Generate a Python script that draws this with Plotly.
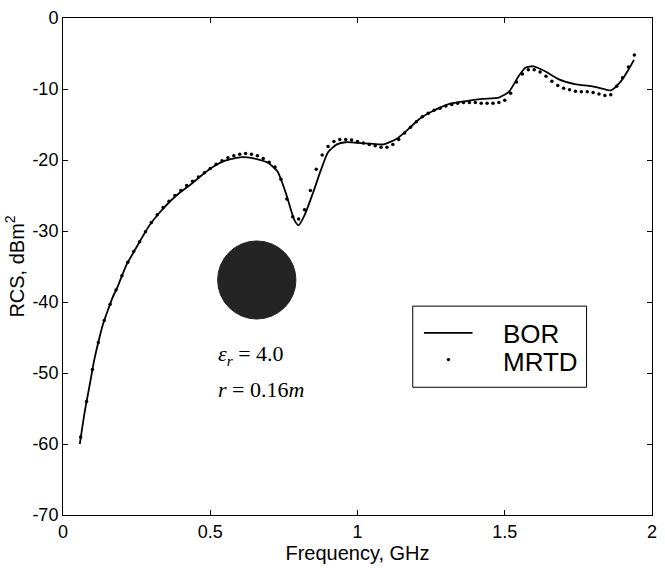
import plotly.graph_objects as go

# BOR (solid line)
bor_freq = [0.057, 0.074, 0.091, 0.105, 0.121, 0.136, 0.152, 0.169, 0.186, 0.214,
            0.248, 0.292, 0.326, 0.382, 0.438, 0.494, 0.550, 0.606, 0.640, 0.696,
            0.728, 0.757, 0.785, 0.800, 0.820, 0.850, 0.875, 0.900, 0.930, 0.960,
            1.000, 1.043, 1.088, 1.133, 1.166, 1.211, 1.256, 1.312, 1.368, 1.424,
            1.480, 1.514, 1.547, 1.570, 1.598, 1.637, 1.682, 1.738, 1.794, 1.827,
            1.861, 1.895, 1.917, 1.939]
bor_rcs = [-60.0, -55.4, -51.6, -48.4, -45.5, -43.1, -41.2, -39.3, -37.8, -34.9,
           -32.4, -29.3, -27.5, -25.1, -23.3, -21.4, -20.1, -19.6, -19.7, -20.4,
           -21.6, -24.7, -28.4, -29.2, -27.8, -24.5, -21.5, -18.9, -17.8, -17.5,
           -17.6, -17.7, -17.8, -17.0, -15.9, -14.2, -13.1, -12.1, -11.7, -11.4,
           -11.2, -10.4, -8.2, -7.0, -6.8, -7.5, -8.6, -9.3, -9.6, -9.9,
           -10.2, -8.9, -7.5, -5.9]

# MRTD (dots)
mrtd_freq = [0.06, 0.08, 0.10, 0.12, 0.14, 0.16, 0.18, 0.20, 0.22, 0.24,
             0.26, 0.28, 0.30, 0.32, 0.34, 0.36, 0.38, 0.40, 0.42, 0.44,
             0.46, 0.48, 0.50, 0.52, 0.54, 0.56, 0.58, 0.60, 0.62, 0.64,
             0.66, 0.68, 0.70, 0.72, 0.74, 0.76, 0.78, 0.80, 0.82, 0.84,
             0.86, 0.88, 0.90, 0.92, 0.94, 0.96, 0.98, 1.00, 1.02, 1.04,
             1.06, 1.08, 1.10, 1.12, 1.14, 1.16, 1.18, 1.20, 1.22, 1.24,
             1.26, 1.28, 1.30, 1.32, 1.34, 1.36, 1.38, 1.40, 1.42, 1.44,
             1.46, 1.48, 1.50, 1.52, 1.54, 1.56, 1.58, 1.60, 1.62, 1.64,
             1.66, 1.68, 1.70, 1.72, 1.74, 1.76, 1.78, 1.80, 1.82, 1.84,
             1.86, 1.88, 1.90, 1.92, 1.94]
mrtd_rcs = [-59.0, -54.0, -49.5, -45.7, -42.6, -40.3, -38.3, -36.3, -34.4, -32.9,
            -31.5, -30.1, -28.8, -27.7, -26.7, -25.8, -25.0, -24.3, -23.6, -23.0,
            -22.4, -21.8, -21.2, -20.6, -20.1, -19.7, -19.4, -19.2, -19.1, -19.2,
            -19.4, -19.8, -20.3, -21.0, -22.7, -25.5, -28.0, -28.3, -27.0, -24.3,
            -21.3, -19.3, -18.1, -17.4, -17.1, -17.1, -17.2, -17.4, -17.6, -17.8,
            -18.0, -18.2, -18.2, -17.8, -17.1, -16.2, -15.4, -14.6, -13.9, -13.4,
            -13.0, -12.7, -12.4, -12.2, -12.0, -11.9, -11.9, -11.9, -12.0, -12.0,
            -12.0, -11.9, -11.6, -10.6, -9.0, -7.9, -7.3, -7.3, -7.6, -8.2,
            -8.9, -9.5, -9.9, -10.1, -10.3, -10.4, -10.4, -10.5, -10.7, -10.9,
            -10.8, -9.6, -8.4, -6.9, -5.2]

series_names = ["BOR", "MRTD"]

x_ticks = [0, 0.5, 1, 1.5, 2]
x_tick_labels = ["0", "0.5", "1", "1.5", "2"]
y_ticks = [0, -10, -20, -30, -40, -50, -60, -70]
y_tick_labels = ["0", "-10", "-20", "-30", "-40", "-50", "-60", "-70"]

sans = "Liberation Sans, Arial, sans-serif"
serif = "Liberation Serif, Times New Roman, serif"

fig = go.Figure()
fig.add_trace(go.Scatter(
    x=bor_freq, y=bor_rcs, mode="lines", name=series_names[0],
    line=dict(color="black", width=1.8, shape="spline", smoothing=0.6),
    showlegend=False,
))
fig.add_trace(go.Scatter(
    x=mrtd_freq, y=mrtd_rcs, mode="markers", name=series_names[1],
    marker=dict(color="black", size=3.5, symbol="circle"),
    showlegend=False,
))

# cylinder cross-section sketch
fig.add_shape(type="circle", xref="x", yref="y",
              x0=0.525, x1=0.791, y0=-42.4, y1=-31.4,
              fillcolor="#242424", line=dict(color="#242424", width=1), layer="above")

fig.add_annotation(x=0.518, y=-47.4, xref="x", yref="y", xanchor="left", yanchor="middle",
                   text="<i>ε<sub>r</sub></i> = 4.0", showarrow=False,
                   font=dict(family=serif, size=22, color="black"))
fig.add_annotation(x=0.518, y=-52.3, xref="x", yref="y", xanchor="left", yanchor="middle",
                   text="<i>r</i> = 0.16<i>m</i>", showarrow=False,
                   font=dict(family=serif, size=22, color="black"))

# legend box (drawn in paper coordinates of the plot area)
fig.add_shape(type="rect", xref="paper", yref="paper",
              x0=0.5938, x1=0.8889, y0=0.2570, y1=0.4203,
              fillcolor="white", line=dict(color="black", width=1), layer="above")
fig.add_shape(type="line", xref="paper", yref="paper",
              x0=0.6128, x1=0.6953, y0=0.3665, y1=0.3665,
              line=dict(color="black", width=1.8), layer="above")
fig.add_shape(type="circle", xref="paper", yref="paper",
              x0=0.6544 - 0.0029, x1=0.6544 + 0.0029, y0=0.3127 - 0.0034, y1=0.3127 + 0.0034,
              fillcolor="black", line=dict(color="black", width=0), layer="above")
fig.add_annotation(x=0.7441, y=0.3645, xref="paper", yref="paper", xanchor="left", yanchor="middle",
                   text=series_names[0], showarrow=False,
                   font=dict(family=sans, size=26, color="black"))
fig.add_annotation(x=0.7441, y=0.3088, xref="paper", yref="paper", xanchor="left", yanchor="middle",
                   text=series_names[1], showarrow=False,
                   font=dict(family=sans, size=26, color="black"))

axis_common = dict(
    showgrid=False, zeroline=False, showline=True, linecolor="black", linewidth=1,
    mirror="ticks", ticks="inside", ticklen=5, tickcolor="black", tickwidth=1,
    tickfont=dict(family=sans, size=18, color="black"),
)

fig.update_layout(
    width=665, height=568,
    margin=dict(l=63, r=8, t=13, b=53),
    paper_bgcolor="white", plot_bgcolor="white",
    showlegend=False,
    xaxis=dict(range=[0, 2], tickvals=x_ticks, ticktext=x_tick_labels,
               title=dict(text="Frequency, GHz", font=dict(family=sans, size=20, color="black"),
                          standoff=2),
               **axis_common),
    yaxis=dict(range=[-70, 0], tickvals=y_ticks, ticktext=y_tick_labels,
               title=dict(text="RCS, dBm<sup>2</sup>", font=dict(family=sans, size=20, color="black"),
                          standoff=2),
               **axis_common),
)

fig.write_html("out.html")
